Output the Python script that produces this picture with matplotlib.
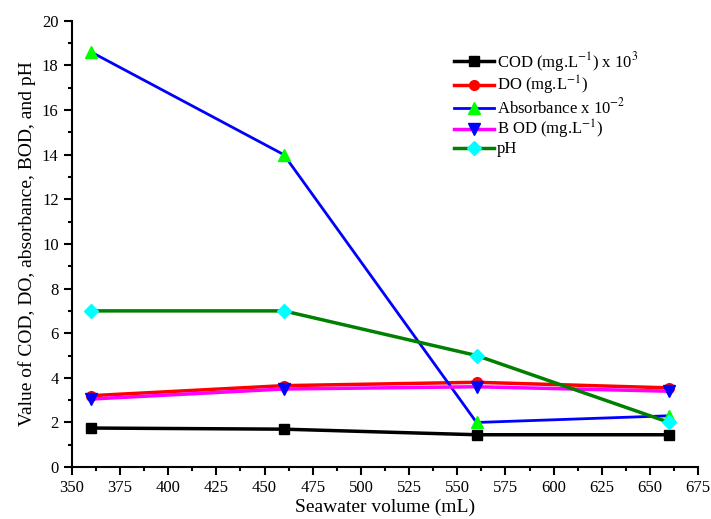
import numpy as np
import matplotlib
matplotlib.use("Agg")
import matplotlib.pyplot as plt
from matplotlib.ticker import MultipleLocator

plt.rcParams['font.family'] = ['Liberation Serif', 'DejaVu Serif']
plt.rcParams['mathtext.fontset'] = 'stix'

volume = [360, 460, 560, 660]
cod = [1.75, 1.7, 1.45, 1.45]
do = [3.2, 3.65, 3.8, 3.55]
absorb = [18.6, 14.0, 2.0, 2.3]
bod = [3.05, 3.5, 3.6, 3.4]
ph = [7.0, 7.0, 5.0, 2.0]

fig = plt.figure(figsize=(7.11, 5.19), dpi=100)
ax = fig.add_axes([0.101, 0.1, 0.881, 0.86])

ax.plot(volume, cod, color='black', lw=2.5, marker='s', ms=7, mfc='black', mec='black',
        label=r'COD (mg.L$^{-1}$) x 10$^{3}$')
ax.plot(volume, do, color='red', lw=2.5, marker='o', ms=7, mfc='red', mec='red',
        label=r'DO (mg.L$^{-1}$)')
ax.plot(volume, absorb, color='blue', lw=2, marker='^', ms=9, mfc='#00ff00', mec='#00ff00',
        label=r'Absorbance x 10$^{-2}$')
ax.plot(volume, bod, color='magenta', lw=2.5, marker='v', ms=9, mfc='blue', mec='blue',
        label=r'B OD (mg.L$^{-1}$)')
ax.plot(volume, ph, color='green', lw=2.5, marker='D', ms=7, mfc='cyan', mec='cyan',
        label='pH')

ax.set_xlim(350, 675)
ax.set_ylim(0, 20)
ax.xaxis.set_major_locator(MultipleLocator(25))
ax.xaxis.set_minor_locator(MultipleLocator(12.5))
ax.yaxis.set_major_locator(MultipleLocator(2))
ax.yaxis.set_minor_locator(MultipleLocator(1))
ax.spines['top'].set_visible(False)
ax.spines['right'].set_visible(False)
ax.spines['left'].set_linewidth(1.5)
ax.spines['bottom'].set_linewidth(1.5)
ax.tick_params(which='major', direction='out', length=6, width=1.5, labelsize=12)
ax.tick_params(which='minor', direction='out', length=3, width=1.5)

ax.set_xlabel('Seawater volume (mL)', fontsize=14, labelpad=2)
ax.set_ylabel('Value of COD, DO, absorbance, BOD, and pH', fontsize=14, labelpad=4)

ax.legend(loc='upper left', bbox_to_anchor=(0.6, 0.95), frameon=False, fontsize=12,
          handlelength=2.4, labelspacing=0.02, handletextpad=0.15, borderaxespad=0)

fig.savefig('out.png', dpi=100)
